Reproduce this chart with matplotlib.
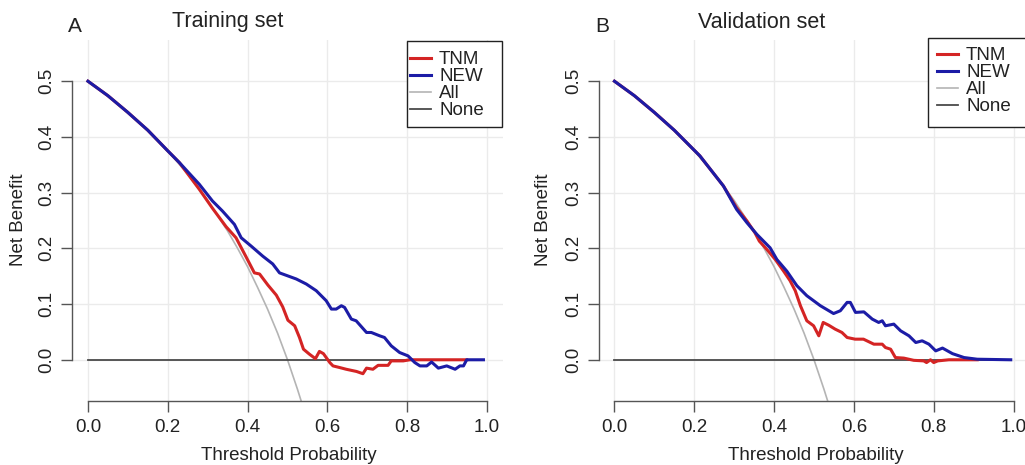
import matplotlib
matplotlib.use("Agg")
import matplotlib.pyplot as plt
from matplotlib.lines import Line2D
from matplotlib.patches import Rectangle

plt.rcParams['font.family'] = ['Liberation Sans', 'DejaVu Sans']

# ---------------- data ----------------
# Training set
train_tnm_x = [0.0, 0.05, 0.1, 0.15, 0.2, 0.229, 0.279, 0.312, 0.346, 0.371, 0.396, 0.417, 0.430,
               0.451, 0.472, 0.488, 0.501, 0.518, 0.530, 0.540, 0.555, 0.570, 0.580, 0.590, 0.606,
               0.614, 0.631, 0.647, 0.673, 0.689, 0.698, 0.714, 0.727, 0.752, 0.760, 0.790, 0.807, 0.949]
train_tnm_y = [0.5, 0.474, 0.444, 0.412, 0.375, 0.354, 0.306, 0.272, 0.239, 0.219, 0.185, 0.156, 0.154,
               0.134, 0.116, 0.095, 0.071, 0.061, 0.040, 0.019, 0.010, 0.002, 0.015, 0.011, -0.005,
               -0.011, -0.014, -0.017, -0.021, -0.025, -0.015, -0.017, -0.010, -0.010, -0.002, -0.002, 0.0, 0.0]

train_new_x = [0.0, 0.05, 0.1, 0.15, 0.2, 0.229, 0.279, 0.312, 0.337, 0.367, 0.384, 0.409, 0.438,
               0.463, 0.480, 0.522, 0.547, 0.572, 0.597, 0.610, 0.622, 0.635, 0.643, 0.660, 0.672,
               0.698, 0.710, 0.731, 0.743, 0.760, 0.781, 0.802, 0.819, 0.832, 0.849, 0.861, 0.878,
               0.899, 0.920, 0.932, 0.941, 0.949, 0.991]
train_new_y = [0.5, 0.474, 0.444, 0.412, 0.375, 0.354, 0.315, 0.285, 0.267, 0.243, 0.219, 0.204, 0.186,
               0.172, 0.156, 0.145, 0.136, 0.124, 0.106, 0.091, 0.091, 0.097, 0.094, 0.073, 0.070,
               0.049, 0.049, 0.043, 0.040, 0.025, 0.013, 0.007, -0.005, -0.011, -0.011, -0.004, -0.015,
               -0.011, -0.017, -0.011, -0.011, 0.0, 0.0]

# Validation set
valid_tnm_x = [0.0, 0.05, 0.1, 0.15, 0.214, 0.273, 0.306, 0.332, 0.352, 0.363, 0.382, 0.403, 0.424,
               0.440, 0.453, 0.466, 0.482, 0.499, 0.512, 0.523, 0.537, 0.553, 0.570, 0.583, 0.603,
               0.624, 0.650, 0.671, 0.679, 0.692, 0.704, 0.725, 0.750, 0.775, 0.782, 0.792, 0.800,
               0.810, 0.838, 0.909]
valid_tnm_y = [0.5, 0.474, 0.444, 0.412, 0.366, 0.312, 0.273, 0.249, 0.228, 0.213, 0.198, 0.180, 0.159,
               0.142, 0.124, 0.097, 0.070, 0.061, 0.043, 0.067, 0.062, 0.055, 0.049, 0.040, 0.037,
               0.037, 0.028, 0.028, 0.022, 0.019, 0.004, 0.003, -0.001, -0.002, -0.005, 0.0, -0.005,
               -0.002, 0.0, 0.0]

valid_new_x = [0.0, 0.05, 0.1, 0.15, 0.214, 0.273, 0.306, 0.332, 0.357, 0.390, 0.407, 0.432, 0.457,
               0.482, 0.516, 0.549, 0.566, 0.583, 0.591, 0.604, 0.625, 0.646, 0.662, 0.671, 0.679,
               0.700, 0.717, 0.738, 0.755, 0.771, 0.788, 0.805, 0.822, 0.847, 0.876, 0.909, 0.993]
valid_new_y = [0.5, 0.474, 0.444, 0.412, 0.366, 0.312, 0.270, 0.246, 0.225, 0.201, 0.180, 0.159, 0.133,
               0.115, 0.097, 0.083, 0.088, 0.103, 0.103, 0.085, 0.086, 0.073, 0.067, 0.070, 0.061,
               0.064, 0.052, 0.043, 0.031, 0.034, 0.028, 0.016, 0.021, 0.011, 0.004, 0.001, 0.0]

# Treat-all and treat-none reference curves (same in both panels)
all_x = [0.0, 0.05, 0.1, 0.15, 0.2, 0.25, 0.3, 0.35, 0.375, 0.4, 0.425, 0.45, 0.475, 0.5, 0.525, 0.54]
all_y = [0.5, 0.474, 0.444, 0.412, 0.375, 0.333, 0.286, 0.231, 0.2, 0.167, 0.130, 0.091, 0.048, 0.0, -0.053, -0.087]
none_x = [0.0, 0.99]
none_y = [0.0, 0.0]

x_ticks = [0.0, 0.2, 0.4, 0.6, 0.8, 1.0]
y_ticks = [0.0, 0.1, 0.2, 0.3, 0.4, 0.5]
legend_labels = ["TNM", "NEW", "All", "None"]

panels = [
    ("A", "Training set", train_tnm_x, train_tnm_y, train_new_x, train_new_y),
    ("B", "Validation set", valid_tnm_x, valid_tnm_y, valid_new_x, valid_new_y),
]

# ---------------- style ----------------
RED = '#d42424'
BLUE = '#1c1ca6'
GREY = '#b4b4b4'
NONE_C = '#4a4a4a'
AX_C = '#555555'

W, H = 1025, 465
fig = plt.figure(figsize=(W / 100, H / 100), dpi=100)

AX_W, AX_TOP, AX_BOT = 431, 40, 401
AX_H = AX_BOT - AX_TOP
ax_left_px = [72, 598.5]
title_px = [228, 762]
letter_px = [75, 602]
ylab_px = [19, 544]
xlab_px = [289, 816]
leg_box_px = [(407, 41, 502, 127), (928, 38, 1030, 127)]
leg_inset_px = [(3, 10), (9, 9)]

for i, (letter, title, tx, ty, nx, ny) in enumerate(panels):
    L = ax_left_px[i]
    ax = fig.add_axes([L / W, 1 - AX_BOT / H, AX_W / W, AX_H / H])
    ax.set_xlim(-0.04, 1.04)
    ax.set_ylim(-0.074, 0.574)
    ax.set_axisbelow(True)
    ax.grid(True, color='#ebebeb', lw=1.0)

    ax.plot(all_x, all_y, color=GREY, lw=1.2, solid_capstyle='butt')
    ax.plot(none_x, none_y, color=NONE_C, lw=1.3)
    ax.plot(tx, ty, color=RED, lw=2.2, solid_joinstyle='round')
    ax.plot(nx, ny, color=BLUE, lw=2.2, solid_joinstyle='round')

    for s in ['top', 'right']:
        ax.spines[s].set_visible(False)
    ax.spines['left'].set_bounds(0.0, 0.5)
    ax.spines['bottom'].set_bounds(0.0, 1.0)
    for s in ['left', 'bottom']:
        ax.spines[s].set_color(AX_C)
        ax.spines[s].set_linewidth(1.0)

    ax.set_xticks(x_ticks)
    ax.set_xticklabels([f"{v:.1f}" for v in x_ticks])
    ax.set_yticks(y_ticks)
    ax.set_yticklabels([f"{v:.1f}" for v in y_ticks])
    ax.tick_params(axis='both', direction='out', length=8, width=1.0, color=AX_C,
                   labelsize=13.5, labelcolor='#222222')
    ax.tick_params(axis='x', pad=5)
    ax.tick_params(axis='y', pad=4, labelrotation=90)
    for lab in ax.get_yticklabels():
        lab.set_va('center')
        lab.set_ha('right')

    # legend frame (drawn as a box in pixel-derived axes coordinates)
    bx0, by0, bx1, by1 = leg_box_px[i]
    ax0 = (bx0 - L) / AX_W
    ax1 = (bx1 - L) / AX_W
    ay0 = (AX_BOT - by1) / AX_H
    ay1 = (AX_BOT - by0) / AX_H
    ax.add_patch(Rectangle((ax0, ay0), ax1 - ax0, ay1 - ay0, transform=ax.transAxes,
                           facecolor='white', edgecolor='#222222', lw=1.0, clip_on=False, zorder=5))

    handles = [Line2D([], [], color=RED, lw=2.2),
               Line2D([], [], color=BLUE, lw=2.2),
               Line2D([], [], color=GREY, lw=1.2),
               Line2D([], [], color=NONE_C, lw=1.3)]
    dx, dy = leg_inset_px[i]
    leg = ax.legend(handles, legend_labels, loc='upper left',
                    bbox_to_anchor=(ax0 + dx / AX_W, ay1 - dy / AX_H),
                    borderaxespad=0, borderpad=0, fontsize=13.5, frameon=False,
                    labelspacing=0.0, handlelength=1.1, handletextpad=0.45)
    leg.set_zorder(6)
    for t in leg.get_texts():
        t.set_color('#222222')

    fig.text(title_px[i] / W, 1 - 22 / H, title, ha='center', va='center', fontsize=15.5, color='#222222')
    fig.text(letter_px[i] / W, 1 - 27 / H, letter, ha='center', va='center', fontsize=15, color='#222222')
    fig.text(ylab_px[i] / W, 1 - 220 / H, "Net Benefit", ha='center', va='center', rotation=90,
             fontsize=13.5, color='#222222')
    fig.text(xlab_px[i] / W, 1 - 455 / H, "Threshold Probability", ha='center', va='center',
             fontsize=13.5, color='#222222')

fig.savefig("out.png", dpi=100, facecolor='white')
